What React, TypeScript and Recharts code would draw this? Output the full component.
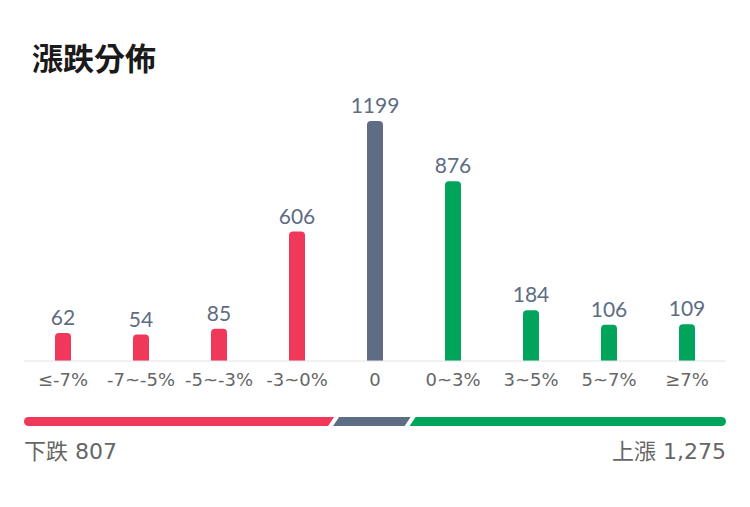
import { BarChart, Bar, XAxis, YAxis, Cell, LabelList } from 'recharts';

// 漲跌家數分佈
const categories = ['≤-7%', '-7~-5%', '-5~-3%', '-3~0%', '0', '0~3%', '3~5%', '5~7%', '≥7%'];
const counts = [62, 54, 85, 606, 1199, 876, 184, 106, 109];

// 底部比例條（從圖上量出的百分比）
const breadthShares = { down: 44.1, flat: 10.9, up: 45.0 };
const downTotal = 807;
const upTotal = 1275;

// 每根柱子都有一段固定底座
const BAR_BASE = 88;

const RED = '#f0385a';
const GRAY = '#5e6c84';
const GREEN = '#00a45a';
const FONT = "Lato, 'Noto Sans CJK TC', sans-serif";
const WIDE_FONT = "'DejaVu Sans', 'Noto Sans CJK TC', sans-serif";

const data = categories.map((name, i) => ({ name, value: counts[i] }));

const colorFor = (i: number) => (i < 4 ? RED : i === 4 ? GRAY : GREEN);

// 斜切的比例條片段
const SLANT = 6;
const GAP = 2.5;
const segmentShape = (kind: 'first' | 'middle' | 'last') => (props: any) => {
    const { x, y, width: w, height: h, fill } = props;
    const r = h / 2;
    let d = '';
    if (kind === 'first') {
        d = `M${x + r},${y} L${x + w - GAP + SLANT / 2},${y} L${x + w - GAP - SLANT / 2},${y + h} L${x + r},${y + h} A${r},${r} 0 0 1 ${x + r},${y} Z`;
    } else if (kind === 'middle') {
        d = `M${x + GAP + SLANT / 2},${y} L${x + w - GAP + SLANT / 2},${y} L${x + w - GAP - SLANT / 2},${y + h} L${x + GAP - SLANT / 2},${y + h} Z`;
    } else {
        d = `M${x + GAP + SLANT / 2},${y} L${x + w - r},${y} A${r},${r} 0 0 1 ${x + w - r},${y + h} L${x + GAP - SLANT / 2},${y + h} Z`;
    }
    return <path d={d} fill={fill} />;
};

export default function App() {
    const breadth = [{ name: 'breadth', ...breadthShares }];
    return (
        <div
            style={{
                position: 'absolute',
                left: 0,
                top: 0,
                width: 750,
                height: 507,
                background: '#fff',
                fontFamily: FONT,
            }}
        >
            <div
                style={{
                    position: 'absolute',
                    left: 32,
                    top: 37,
                    fontSize: 31,
                    fontWeight: 700,
                    color: '#1a1a1a',
                    lineHeight: '40px',
                    fontFamily: "'Noto Sans CJK TC', sans-serif",
                }}
            >
                漲跌分佈
            </div>

            <div style={{ position: 'absolute', left: 0, top: 0 }}>
                <BarChart
                    width={750}
                    height={400}
                    data={data}
                    margin={{ top: 100, right: 24, left: 24, bottom: 9 }}
                >
                    <XAxis
                        dataKey="name"
                        height={30}
                        tickLine={false}
                        axisLine={{ stroke: '#e3e3e3' }}
                        tick={{ fill: '#666', fontSize: 18, fontFamily: WIDE_FONT }}
                        tickMargin={6}
                        interval={0}
                    />
                    <YAxis hide domain={[0, 1400]} />
                    <Bar
                        dataKey={(d: any) => d.value + BAR_BASE}
                        barSize={16}
                        radius={[4, 4, 0, 0]}
                        isAnimationActive={false}
                    >
                        {data.map((_, i) => (
                            <Cell key={i} fill={colorFor(i)} />
                        ))}
                        <LabelList
                            dataKey="value"
                            position="top"
                            offset={8}
                            fill={GRAY}
                            fontSize={21}
                            fontFamily={FONT}
                        />
                    </Bar>
                </BarChart>
            </div>

            <div style={{ position: 'absolute', left: 0, top: 417 }}>
                <BarChart
                    width={750}
                    height={9}
                    data={breadth}
                    layout="vertical"
                    barCategoryGap={0}
                    margin={{ top: 0, right: 24, left: 24, bottom: 0 }}
                >
                    <XAxis type="number" hide domain={[0, 100]} />
                    <YAxis type="category" dataKey="name" hide />
                    <Bar dataKey="down" stackId="s" fill={RED} shape={segmentShape('first')} isAnimationActive={false} />
                    <Bar dataKey="flat" stackId="s" fill={GRAY} shape={segmentShape('middle')} isAnimationActive={false} />
                    <Bar dataKey="up" stackId="s" fill={GREEN} shape={segmentShape('last')} isAnimationActive={false} />
                </BarChart>
            </div>

            <div
                style={{
                    position: 'absolute',
                    left: 24,
                    top: 437,
                    fontSize: 22,
                    color: '#666',
                    lineHeight: '30px',
                    fontFamily: WIDE_FONT,
                }}
            >
                下跌 {downTotal.toLocaleString('en-US')}
            </div>
            <div
                style={{
                    position: 'absolute',
                    right: 24,
                    top: 437,
                    fontSize: 22,
                    color: '#666',
                    lineHeight: '30px',
                    fontFamily: WIDE_FONT,
                }}
            >
                上漲 {upTotal.toLocaleString('en-US')}
            </div>
        </div>
    );
}
